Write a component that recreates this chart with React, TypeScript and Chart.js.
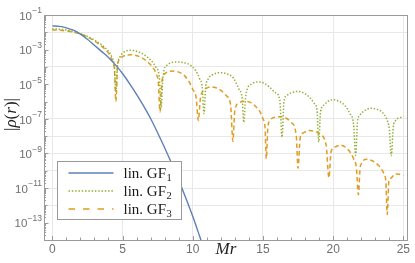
import React, { useEffect, useRef } from "react";
import { Chart, registerables } from "chart.js";

Chart.register(...registerables);

// Values: [Mr, log10 |rho(r)|]
const gf1Points: number[][] = [
  [0, -1.63], [0.5, -1.66], [1, -1.74], [1.5, -1.88], [2, -2.1], [2.5, -2.4],
  [3, -2.75], [3.5, -3.1], [4, -3.45], [4.5, -3.88], [5, -4.38], [5.5, -4.96],
  [6, -5.58], [6.5, -6.25], [7, -6.98], [7.5, -7.8], [8, -8.67], [8.5, -9.58],
  [9, -10.54], [9.5, -11.56], [10, -12.63], [10.5, -13.8], [11, -15.0],
];

const gf2Points: number[][] = [
  [0, -1.8], [0.5, -1.82], [1, -1.87], [1.5, -1.96], [2, -2.08], [2.5, -2.24],
  [3, -2.45], [3.5, -2.72], [4, -3.1], [4.25, -3.45], [4.42, -3.95], [4.53, -5.4],
  [4.64, -3.95], [4.8, -3.45], [5.1, -3.15], [5.6, -3.04], [6.2, -3.15], [6.6, -3.33],
  [7, -3.6], [7.4, -4.05], [7.62, -4.6], [7.75, -6.4], [7.88, -4.6], [8.17, -3.9],
  [8.86, -3.72], [9.5, -3.78], [9.8, -3.88], [10.2, -4.2], [10.5, -4.7], [10.68, -5.2],
  [10.8, -6.7], [10.92, -5.2], [11.1, -4.7], [11.5, -4.42], [11.93, -4.33], [12.5, -4.42],
  [12.9, -4.65], [13.3, -5.3], [13.52, -5.8], [13.64, -7.2], [13.76, -5.8], [13.9, -5.25],
  [14.2, -4.98], [14.65, -4.87], [15.1, -4.95], [15.5, -5.19], [15.9, -5.5], [16.2, -5.9],
  [16.36, -8.05], [16.5, -6.0], [16.7, -5.65], [17, -5.5], [17.5, -5.42], [18, -5.55],
  [18.32, -5.76], [18.65, -6.1], [18.85, -6.5], [18.98, -8.33], [19.1, -6.6], [19.35, -6.2],
  [19.6, -6.0], [20, -5.9], [20.4, -5.98], [20.85, -6.24], [21.2, -6.7], [21.45, -7.3],
  [21.6, -9.1], [21.73, -7.2], [21.9, -6.8], [22.2, -6.55], [22.65, -6.39], [23.1, -6.45],
  [23.5, -6.62], [23.8, -7.0], [24, -7.6], [24.14, -9.13], [24.28, -7.5], [24.44, -7.1],
  [24.7, -6.95], [25, -6.88],
];

const gf3Points: number[][] = [
  [0, -1.86], [0.5, -1.88], [1, -1.92], [1.5, -2.0], [2, -2.1], [2.5, -2.27],
  [3, -2.5], [3.5, -2.8], [4, -3.2], [4.25, -3.6], [4.42, -4.1], [4.53, -6.0],
  [4.64, -4.0], [4.75, -3.6], [5, -3.4], [5.6, -3.3], [6.3, -3.44], [6.7, -3.65],
  [7.08, -3.95], [7.4, -4.4], [7.55, -4.9], [7.67, -6.6], [7.8, -4.9], [8, -4.4],
  [8.6, -4.24], [9.3, -4.43], [9.7, -4.8], [10, -5.29], [10.25, -5.8], [10.4, -7.1],
  [10.55, -5.8], [10.8, -5.35], [11, -5.22], [11.3, -5.15], [11.6, -5.19], [12, -5.35],
  [12.4, -5.67], [12.7, -6.2], [12.86, -8.3], [13, -6.5], [13.35, -6.05], [13.7, -5.98],
  [14.1, -6.05], [14.54, -6.33], [14.8, -6.6], [15, -7.0], [15.15, -7.5], [15.24, -9.3],
  [15.35, -7.5], [15.5, -7.1], [15.96, -6.9], [16.3, -6.88], [17, -7.2], [17.37, -7.95],
  [17.5, -9.86], [17.65, -8.1], [17.9, -7.8], [18.3, -7.67], [19, -7.86], [19.5, -8.52],
  [19.7, -10.4], [19.85, -8.9], [20.15, -8.62], [20.5, -8.52], [21.1, -8.81], [21.45, -9.29],
  [21.65, -9.8], [21.8, -11.38], [21.93, -9.76], [22.4, -9.34], [23.24, -9.7], [23.6, -10.14],
  [23.75, -10.6], [23.85, -12.53], [23.97, -10.6], [24.1, -10.43], [24.44, -10.18], [24.7, -10.2],
  [25, -10.28],
];

const seriesNames = ["lin. GF", "lin. GF", "lin. GF"];
const seriesSubscripts = ["1", "2", "3"];
const seriesColors = ["#5e81b5", "#8fb032", "#e19c24"];

const xTickValues = [0, 5, 10, 15, 20, 25];
const xMinorTickValues = [
  0, 1, 2, 3, 4, 5, 6, 7, 8, 9, 10, 11, 12, 13, 14, 15, 16, 17, 18, 19, 20, 21, 22, 23, 24, 25,
];
const yLabelExponents = [-1, -3, -5, -7, -9, -11, -13];
const yDecadeExponents = [-14, -13, -12, -11, -10, -9, -8, -7, -6, -5, -4, -3, -2, -1];
const yGridExponents = [-2, -4, -7, -8, -9, -10, -11, -12];
const yMinorMantissas = [2, 3, 4, 5, 6, 7, 8, 9];

const xAxisTitle = "Mr";
const yAxisTitleParts = [
  { t: "|", italic: false },
  { t: "ρ", italic: true },
  { t: "(", italic: false },
  { t: "r", italic: true },
  { t: ")", italic: false },
  { t: "|", italic: false },
];

const FRAME = "#9a9a9a";
const GRID = "#e8e8e8";
const TICKTEXT = "#6f6f6f";

const toXY = (pts: number[][]) => pts.map((p) => ({ x: p[0], y: Math.pow(10, p[1]) }));

const decorPlugin = {
  id: "decor",
  beforeDraw(chart: any) {
    const { ctx, width, height } = chart;
    ctx.save();
    ctx.fillStyle = "#ffffff";
    ctx.fillRect(0, 0, width, height);
    ctx.restore();
  },
  afterDraw(chart: any) {
    const { ctx, chartArea } = chart;
    const xs = chart.scales.x;
    const ys = chart.scales.y;
    const { left, right, top, bottom } = chartArea;
    ctx.save();

    // frame
    ctx.strokeStyle = FRAME;
    ctx.lineWidth = 1;
    ctx.setLineDash([]);
    ctx.strokeRect(left + 0.5, top + 0.5, right - left - 1, bottom - top);

    // x ticks (inward)
    ctx.beginPath();
    xMinorTickValues.forEach((v) => {
      const px = Math.round(xs.getPixelForValue(v)) + 0.5;
      const len = xTickValues.includes(v) ? 4 : 2.5;
      ctx.moveTo(px, bottom);
      ctx.lineTo(px, bottom - len);
    });
    // y ticks (inward)
    yDecadeExponents.forEach((e) => {
      const py = Math.round(ys.getPixelForValue(Math.pow(10, e))) + 0.5;
      const len = yLabelExponents.includes(e) ? 4.5 : 3.5;
      ctx.moveTo(left, py);
      ctx.lineTo(left + len, py);
      if (e < -1) {
        yMinorMantissas.forEach((m) => {
          const pm = Math.round(ys.getPixelForValue(m * Math.pow(10, e))) + 0.5;
          ctx.moveTo(left, pm);
          ctx.lineTo(left + 2, pm);
        });
      }
    });
    ctx.stroke();

    // y tick labels 10^e
    ctx.fillStyle = TICKTEXT;
    ctx.textBaseline = "middle";
    yLabelExponents.forEach((e) => {
      const py = ys.getPixelForValue(Math.pow(10, e));
      const expStr = "\u2212" + Math.abs(e);
      ctx.font = '8.5px "Liberation Sans"';
      const we = ctx.measureText(expStr).width;
      const xr = left - 2;
      ctx.textAlign = "left";
      ctx.fillText(expStr, xr - we, py - 4);
      ctx.font = '11.5px "Liberation Sans"';
      ctx.textAlign = "right";
      ctx.fillText("10", xr - we - 0.3, py + 1.5);
    });

    // y axis title
    const size = 17;
    const fontOf = (it: boolean) => `${it ? "italic " : ""}${size}px "Liberation Serif"`;
    const widths = yAxisTitleParts.map((p) => {
      ctx.font = fontOf(p.italic);
      return ctx.measureText(p.t).width;
    });
    const total = widths.reduce((a, b) => a + b, 0);
    ctx.save();
    ctx.translate(left - 32, (top + bottom) / 2 - 13);
    ctx.rotate(-Math.PI / 2);
    ctx.fillStyle = "#222222";
    ctx.textAlign = "left";
    ctx.textBaseline = "middle";
    let cx = -total / 2;
    yAxisTitleParts.forEach((p, i) => {
      ctx.font = fontOf(p.italic);
      ctx.fillText(p.t, cx, 0);
      cx += widths[i];
    });
    ctx.restore();

    // legend box
    const bx = left + 13.5;
    const by = top + 146.5;
    const bw = 124;
    const bh = 58;
    ctx.fillStyle = "#ffffff";
    ctx.fillRect(bx, by, bw, bh);
    ctx.strokeStyle = FRAME;
    ctx.lineWidth = 1;
    ctx.strokeRect(bx, by, bw, bh);
    chart.data.datasets.forEach((ds: any, i: number) => {
      const cy = by + 11.5 + i * 18;
      ctx.beginPath();
      ctx.setLineDash(i === 0 ? [] : i === 1 ? [1.5, 1.8] : [6.5, 8]);
      ctx.strokeStyle = ds.borderColor;
      ctx.lineWidth = ds.borderWidth;
      ctx.moveTo(bx + 11, cy);
      ctx.lineTo(bx + 56, cy);
      ctx.stroke();
      ctx.setLineDash([]);
      ctx.fillStyle = "#1a1a1a";
      ctx.textAlign = "left";
      ctx.textBaseline = "alphabetic";
      ctx.font = '15px "Liberation Serif"';
      const base = seriesNames[i];
      ctx.fillText(base, bx + 66, cy + 5);
      const w = ctx.measureText(base).width;
      ctx.font = '10.5px "Liberation Serif"';
      ctx.fillText(seriesSubscripts[i], bx + 66 + w + 0.5, cy + 8);
    });

    ctx.restore();
  },
};

export default function App() {
  const canvasRef = useRef<HTMLCanvasElement | null>(null);

  useEffect(() => {
    if (!canvasRef.current) return;
    const chart = new Chart(canvasRef.current, {
      type: "line",
      data: {
        datasets: [
          {
            label: seriesNames[0] + "\u2081",
            data: toXY(gf1Points),
            borderColor: seriesColors[0],
            borderWidth: 1.4,
            pointRadius: 0,
            cubicInterpolationMode: "monotone",
          },
          {
            label: seriesNames[1] + "\u2082",
            data: toXY(gf2Points),
            borderColor: seriesColors[1],
            borderWidth: 1.5,
            borderDash: [1.4, 1.8],
            pointRadius: 0,
            cubicInterpolationMode: "monotone",
          },
          {
            label: seriesNames[2] + "\u2083",
            data: toXY(gf3Points),
            borderColor: seriesColors[2],
            borderWidth: 1.5,
            borderDash: [4.5, 3],
            pointRadius: 0,
            cubicInterpolationMode: "monotone",
          },
        ],
      },
      options: {
        animation: false,
        responsive: false,
        devicePixelRatio: 1,
        parsing: false,
        layout: { padding: { top: 15, right: 7, left: 0, bottom: 0 } },
        plugins: { legend: { display: false }, tooltip: { enabled: false } },
        scales: {
          x: {
            type: "linear",
            min: -0.59,
            max: 25.33,
            afterBuildTicks: (s: any) => {
              s.ticks = xTickValues.map((v) => ({ value: v }));
            },
            afterFit: (s: any) => {
              s.height = 23;
            },
            ticks: {
              color: TICKTEXT,
              font: { family: "Liberation Sans", size: 12 },
              padding: 2,
              maxRotation: 0,
              autoSkip: false,
            },
            grid: { color: GRID, drawTicks: false },
            border: { display: false },
            title: {
              display: true,
              text: xAxisTitle,
              color: "#222222",
              font: { family: "Liberation Serif", size: 17, style: "italic" },
              padding: { top: 0, bottom: 3 },
            },
          },
          y: {
            type: "logarithmic",
            min: 1e-14,
            max: 1e-1,
            afterBuildTicks: (s: any) => {
              s.ticks = yGridExponents.map((e) => ({ value: Math.pow(10, e) }));
            },
            afterFit: (s: any) => {
              s.width = 44;
            },
            ticks: { display: false },
            grid: { color: GRID, drawTicks: false },
            border: { display: false },
          },
        },
      },
      plugins: [decorPlugin],
    } as any);
    return () => chart.destroy();
  }, []);

  return (
    <div style={{ position: "fixed", left: 0, top: 0, width: 415, height: 263, background: "#fff" }}>
      <canvas ref={canvasRef} width={415} height={263} style={{ display: "block" }} />
    </div>
  );
}
